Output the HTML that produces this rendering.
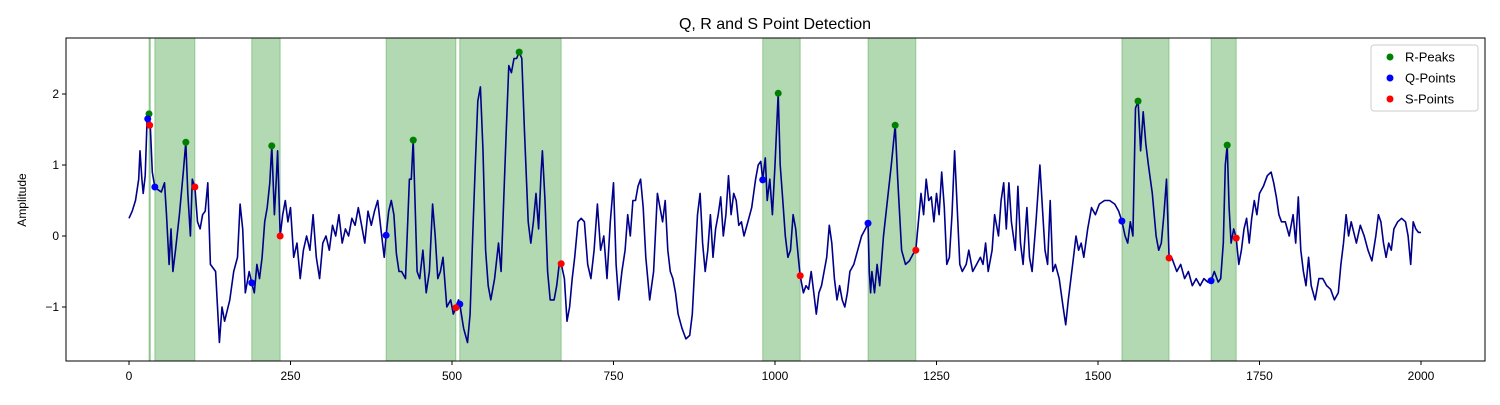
<!DOCTYPE html>
<html><head><meta charset="utf-8"><style>
body{margin:0;background:#fff;}
svg{font-family:"Liberation Sans","DejaVu Sans",sans-serif;}
</style></head><body>
<svg id="chart" width="1500" height="400" xmlns="http://www.w3.org/2000/svg">
<rect width="1500" height="400" fill="#fff"/>
<g id="spans"></g>
<g id="plot"></g>
<g id="axes"></g>
</svg>
<script>
const spanStarts=[31,40,190,398,512,981,1144,1537,1675];
const spanEnds=[33,102,234,506,669,1039,1218,1610,1714];
const rX=[31,88,221,440,604,1005,1186,1562,1700];
const rY=[1.72,1.32,1.27,1.35,2.59,2.01,1.56,1.90,1.28];
const qX=[29,40,190,398,512,981,1144,1537,1675];
const qY=[1.65,0.69,-0.66,0.01,-0.96,0.79,0.18,0.21,-0.63];
const sX=[32,102,234,506,669,1039,1218,1610,1714];
const sY=[1.56,0.69,0.0,-1.01,-0.39,-0.56,-0.2,-0.31,-0.03];
const xTicks=[0,250,500,750,1000,1250,1500,1750,2000];
const yTicks=[-1,0,1,2];
const signal=[[0,0.25],[5,0.35],[10,0.5],[15,0.8],[17,1.2],[20,0.8],[22,0.6],[25,0.85],[28,1.65],[31,1.72],[33,1.55],[36,0.9],[40,0.69],[45,0.65],[50,0.62],[55,0.75],[58,0.3],[62,-0.4],[65,0.1],[68,-0.5],[72,-0.2],[78,0.3],[84,0.9],[88,1.32],[91,0.6],[95,0.0],[98,0.8],[102,0.69],[106,0.2],[110,0.1],[114,0.3],[118,0.35],[122,0.75],[126,-0.4],[130,-0.45],[134,-0.5],[140,-1.5],[144,-1.0],[148,-1.2],[152,-1.05],[156,-0.9],[162,-0.5],[168,-0.3],[172,0.45],[176,0.1],[180,-0.8],[186,-0.5],[190,-0.66],[194,-0.8],[198,-0.4],[202,-0.6],[206,-0.3],[210,0.2],[214,0.4],[218,0.75],[221,1.27],[225,0.3],[228,0.8],[230,1.2],[234,0.0],[238,0.3],[242,0.5],[246,0.2],[250,0.4],[255,-0.3],[260,-0.1],[265,-0.6],[270,-0.2],[275,0.0],[280,-0.2],[285,0.3],[290,-0.3],[295,-0.6],[300,-0.1],[305,0.0],[310,-0.2],[315,0.15],[320,0.0],[325,0.3],[330,-0.1],[335,0.1],[340,0.0],[345,0.25],[350,0.15],[355,0.4],[360,0.15],[365,-0.1],[370,0.35],[375,0.15],[380,0.35],[385,0.5],[390,0.1],[395,-0.3],[398,0.01],[402,0.35],[406,0.5],[410,0.3],[414,-0.25],[418,-0.5],[422,-0.5],[428,-0.6],[434,0.8],[437,0.8],[440,1.35],[443,0.4],[446,-0.5],[450,-0.6],[455,-0.2],[460,-0.8],[465,-0.5],[470,0.45],[474,0.0],[478,-0.6],[482,-0.5],[486,-0.3],[492,-1.0],[498,-0.9],[502,-1.1],[506,-1.01],[510,-0.9],[512,-0.96],[518,-1.3],[524,-1.5],[528,-1.1],[532,0.0],[536,1.0],[540,1.9],[544,2.1],[548,1.2],[552,-0.2],[556,-0.7],[560,-0.9],[566,-0.6],[572,-0.1],[576,-0.5],[580,0.5],[584,1.5],[588,2.4],[592,2.3],[596,2.5],[600,2.5],[604,2.59],[608,2.5],[612,1.5],[618,0.2],[622,-0.1],[626,0.2],[630,0.6],[634,0.1],[638,0.9],[640,1.2],[644,0.5],[648,-0.5],[652,-0.9],[658,-0.9],[662,-0.7],[666,-0.4],[669,-0.39],[674,-0.6],[678,-1.2],[682,-1.0],[686,-0.6],[690,-0.3],[695,0.2],[700,0.25],[705,0.2],[710,-0.4],[715,-0.6],[720,-0.2],[725,0.45],[730,-0.2],[735,0.0],[740,-0.6],[745,0.2],[750,0.75],[754,-0.4],[758,-0.9],[763,-0.5],[768,-0.2],[772,0.3],[776,0.0],[780,0.5],[784,0.5],[788,0.7],[792,0.8],[796,0.4],[800,-0.3],[806,-0.9],[812,-0.5],[818,0.6],[822,0.4],[826,0.2],[830,0.5],[834,-0.2],[838,-0.5],[842,-0.6],[846,-0.8],[850,-1.1],[856,-1.3],[862,-1.45],[868,-1.4],[872,-1.1],[876,-0.4],[880,0.3],[884,0.6],[888,-0.1],[892,-0.5],[896,-0.2],[900,0.3],[904,-0.3],[908,0.1],[912,0.3],[916,0.55],[920,0.0],[924,0.3],[928,0.85],[932,0.3],[936,0.6],[940,0.5],[944,0.15],[948,0.2],[952,0.0],[958,0.2],[964,0.4],[970,0.8],[974,1.0],[978,1.05],[981,0.79],[985,1.1],[988,0.5],[992,0.8],[996,0.3],[1000,1.0],[1005,2.01],[1008,1.0],[1012,0.5],[1016,0.0],[1020,-0.3],[1024,-0.2],[1028,0.3],[1032,0.1],[1036,-0.3],[1039,-0.56],[1044,-0.8],[1048,-0.7],[1052,-0.75],[1056,-0.5],[1060,-0.8],[1064,-1.1],[1068,-0.8],[1072,-0.7],[1076,-0.5],[1080,-0.3],[1084,0.15],[1088,-0.1],[1092,-0.6],[1096,-0.9],[1100,-0.7],[1104,-0.9],[1108,-1.0],[1112,-0.8],[1116,-0.5],[1122,-0.4],[1128,-0.2],[1134,0.0],[1140,0.1],[1144,0.18],[1146,-0.5],[1148,-0.8],[1150,-0.5],[1154,-0.8],[1158,-0.4],[1162,-0.7],[1168,0.0],[1174,0.5],[1180,1.0],[1186,1.56],[1190,0.8],[1196,-0.2],[1202,-0.4],[1208,-0.35],[1214,-0.25],[1218,-0.2],[1222,0.2],[1226,0.6],[1230,0.3],[1234,0.8],[1238,0.5],[1242,0.55],[1246,0.2],[1250,0.6],[1254,0.3],[1258,0.9],[1262,0.4],[1266,-0.4],[1270,-0.3],[1274,0.3],[1278,1.2],[1282,0.4],[1286,-0.4],[1290,-0.5],[1296,-0.4],[1300,-0.2],[1306,-0.5],[1312,-0.4],[1318,-0.3],[1322,-0.4],[1326,-0.1],[1330,-0.5],[1336,-0.2],[1340,0.3],[1346,0.0],[1350,0.5],[1354,0.75],[1358,0.1],[1362,0.75],[1366,0.2],[1372,-0.2],[1376,0.7],[1380,-0.1],[1384,-0.4],[1390,0.4],[1394,-0.3],[1398,-0.5],[1404,0.2],[1410,1.0],[1414,0.4],[1418,-0.2],[1422,-0.4],[1426,0.5],[1430,-0.5],[1434,-0.4],[1440,-0.6],[1446,-1.0],[1450,-1.25],[1454,-0.9],[1458,-0.6],[1462,-0.3],[1466,0.0],[1470,-0.2],[1474,-0.1],[1478,-0.3],[1484,0.1],[1490,0.4],[1496,0.3],[1502,0.45],[1510,0.5],[1518,0.5],[1526,0.45],[1532,0.35],[1537,0.21],[1542,0.0],[1546,-0.1],[1550,0.2],[1554,0.0],[1558,1.8],[1562,1.9],[1566,1.2],[1570,1.75],[1574,1.3],[1578,1.0],[1584,0.6],[1590,0.0],[1594,-0.2],[1598,-0.1],[1602,0.3],[1606,0.8],[1610,-0.31],[1614,-0.3],[1618,-0.4],[1622,-0.5],[1628,-0.4],[1634,-0.6],[1640,-0.5],[1646,-0.7],[1652,-0.6],[1658,-0.7],[1664,-0.6],[1670,-0.65],[1675,-0.63],[1680,-0.5],[1686,-0.65],[1690,-0.6],[1694,-0.1],[1697,1.0],[1700,1.28],[1703,0.4],[1706,-0.1],[1710,0.1],[1714,-0.03],[1718,-0.4],[1722,-0.2],[1726,0.1],[1730,0.25],[1734,-0.1],[1738,0.25],[1742,0.5],[1746,0.3],[1750,0.6],[1756,0.7],[1762,0.85],[1768,0.9],[1772,0.75],[1776,0.55],[1780,0.3],[1784,0.2],[1790,0.2],[1796,0.0],[1802,0.3],[1806,-0.1],[1810,0.55],[1814,-0.2],[1818,-0.5],[1822,-0.7],[1826,-0.3],[1830,-0.7],[1836,-0.9],[1842,-0.6],[1848,-0.6],[1854,-0.7],[1860,-0.75],[1866,-0.9],[1872,-0.8],[1876,-0.4],[1880,-0.1],[1884,0.3],[1888,0.0],[1892,0.2],[1896,0.05],[1900,-0.1],[1906,0.15],[1912,0.0],[1918,-0.2],[1924,-0.35],[1930,0.0],[1934,0.3],[1938,0.2],[1942,-0.1],[1946,-0.3],[1950,-0.1],[1954,-0.2],[1958,0.1],[1964,0.2],[1970,0.25],[1976,0.2],[1980,0.0],[1984,-0.4],[1988,0.2],[1992,0.1],[1996,0.05],[2000,0.05]];

const NS="http://www.w3.org/2000/svg";
const L=66,R=1485,T=38,B=361;
function sx(v){return 129+v*(1421-129)/2000;}
function sy(v){return 236-v*71;}
function mk(tag,attrs,parent){const e=document.createElementNS(NS,tag);for(const k in attrs)e.setAttribute(k,attrs[k]);parent.appendChild(e);return e;}
const spansG=document.getElementById('spans'),plot=document.getElementById('plot'),axes=document.getElementById('axes');

for(let i=0;i<spanStarts.length;i++){
  const r=mk('rect',{x:sx(spanStarts[i]),y:T,width:sx(spanEnds[i])-sx(spanStarts[i]),height:B-T,fill:'rgba(0,128,0,0.3)',stroke:'rgba(0,128,0,0.3)','stroke-width':1},spansG);
  
  
}
const line=mk('polyline',{points:signal.map(p=>sx(p[0]).toFixed(1)+','+sy(p[1]).toFixed(1)).join(' '),fill:'none',stroke:'#00008b','stroke-width':1.6,'stroke-linejoin':'round'},plot);


function pts(xs,ys,color,name){for(let i=0;i<xs.length;i++){const c=mk('circle',{cx:sx(xs[i]),cy:sy(ys[i]),r:3.5,fill:color},plot);
  
  }}
pts(rX,rY,'green','r-peak-point');
pts(qX,qY,'blue','q-point');
pts(sX,sY,'red','s-point');

const frame=mk('rect',{x:L,y:T,width:R-L,height:B-T,fill:'none',stroke:'#000','stroke-width':1},axes);


xTicks.forEach(t=>{const x=sx(t);mk('line',{x1:x,x2:x,y1:B,y2:B+4,stroke:'#000'},axes);
  const tx=mk('text',{x:x,y:B+19,'text-anchor':'middle','font-size':12},axes);tx.textContent=t;
  
  });
yTicks.forEach(t=>{const y=sy(t);mk('line',{x1:L-4,x2:L,y1:y,y2:y,stroke:'#000'},axes);
  const tx=mk('text',{x:L-7,y:y+4,'text-anchor':'end','font-size':12},axes);tx.textContent=t<0?'\u2212'+(-t):t;
  
  });
const title=mk('text',{x:775,y:29,'text-anchor':'middle','font-size':16},axes);title.textContent='Q, R and S Point Detection';


const yl=mk('text',{x:0,y:0,'text-anchor':'middle','font-size':12,transform:'translate(26,200) rotate(-90)'},axes);yl.textContent='Amplitude';



const lg=mk('g',{},axes);


mk('rect',{x:1371,y:45,width:107,height:66,rx:3,fill:'#fff','fill-opacity':0.8,stroke:'#ccc'},lg);
[['R-Peaks','green',57],['Q-Points','blue',78],['S-Points','red',99]].forEach(e=>{
  mk('circle',{cx:1390,cy:e[2],r:3.5,fill:e[1]},lg);
  const t=mk('text',{x:1405,y:e[2]+4.5,'font-size':13},lg);t.textContent=e[0];
  
  });
</script>
</body></html>
